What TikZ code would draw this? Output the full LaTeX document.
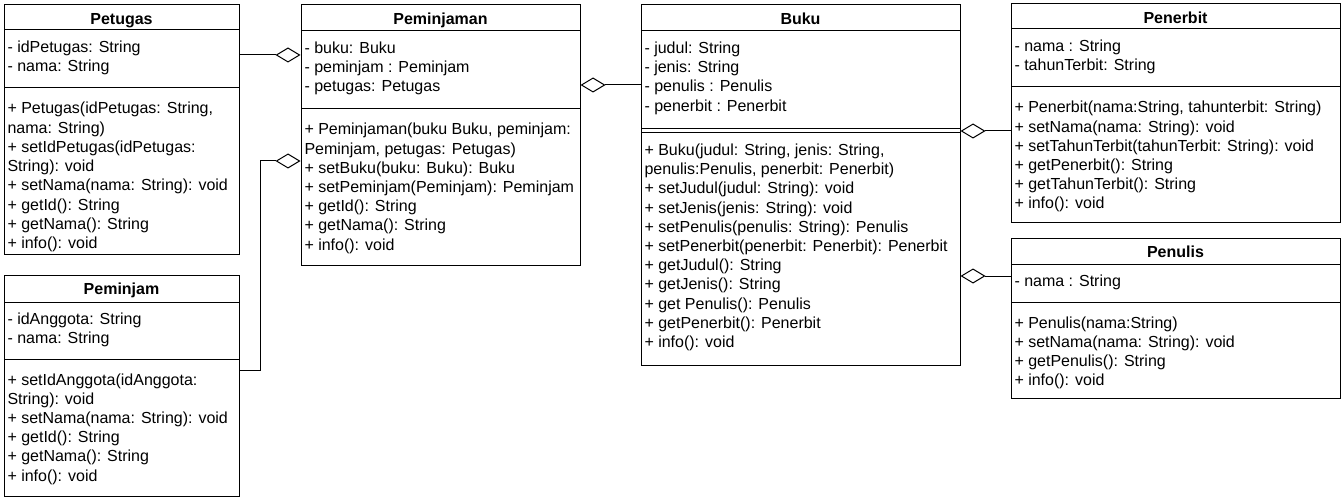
\documentclass[tikz,border=0pt]{standalone}
\usepackage{fontspec}
\setmainfont{Liberation Sans}
\usetikzlibrary{arrows.meta,fit}
\newcommand{\umllines}[4]{\foreach \t [count=\i] in {#4} {\node[txt] (#1\i) at (#2,{#3+1.5+19.2*(\i-1)}) {\t};}}
\begin{document}
\begin{tikzpicture}[x=0.75pt,y=-0.75pt, line width=0.75pt,
 cls/.style={draw, inner sep=0pt, fill=white},
 txt/.style={anchor=base west, inner sep=0pt, font=\fontsize{12}{14.4}\selectfont},
 ttl/.style={anchor=base, inner sep=0pt, font=\fontsize{12}{14.4}\selectfont\bfseries},
 agg/.style={-{Diamond[open,length=18.75pt,width=11.25pt]}, line join=miter}]
\fill[white] (0,0) rectangle (1344,502);
\useasboundingbox (0,0) rectangle (1344,502);

% Petugas
\node[cls, fit={(4,5) (239,254)}] (petugas) {};
\draw (4,30) -- (239,30) (4,88) -- (239,88);
\node[ttl] (petugas-t) at (121.5,24.5) {Petugas};
\umllines{pa}{7}{51}{{- idPetugas: String},{- nama: String}}
\umllines{pm}{7}{112.5}{{+ Petugas(idPetugas: String,},{nama: String)},{+ setIdPetugas(idPetugas:},{String): void},{+ setNama(nama: String): void},{+ getId(): String},{+ getNama(): String},{+ info(): void}}

% Peminjam
\node[cls, fit={(4,275) (239,496)}] (peminjam) {};
\draw (4,302) -- (239,302) (4,359) -- (239,359);
\node[ttl] (peminjam-t) at (121.5,294.5) {Peminjam};
\umllines{qa}{7}{323}{{- idAnggota: String},{- nama: String}}
\umllines{qm}{7}{383.5}{{+ setIdAnggota(idAnggota:},{String): void},{+ setNama(nama: String): void},{+ getId(): String},{+ getNama(): String},{+ info(): void}}

% Peminjaman
\node[cls, fit={(301,5) (580,265)}] (pmj) {};
\draw (301,31) -- (580,31) (301,109) -- (580,109);
\node[ttl] (pmj-t) at (440.5,24.5) {Peminjaman};
\umllines{ra}{304}{52}{{- buku: Buku},{- peminjam : Peminjam},{- petugas: Petugas}}
\umllines{rm}{304}{133.5}{{+ Peminjaman(buku Buku, peminjam:},{Peminjam, petugas: Petugas)},{+ setBuku(buku: Buku): Buku},{+ setPeminjam(Peminjam): Peminjam},{+ getId(): String},{+ getNama(): String},{+ info(): void}}

% Buku
\node[cls, fit={(641,5) (960,365)}] (buku) {};
\draw (641,31) -- (960,31) (641,129) -- (960,129) (641,133) -- (960,133);
\node[ttl] (buku-t) at (800.5,24.5) {Buku};
\umllines{ba}{644}{52}{{- judul: String},{- jenis: String},{- penulis : Penulis},{- penerbit : Penerbit}}
\umllines{bm}{644}{154}{{+ Buku(judul: String, jenis: String,},{penulis:Penulis, penerbit: Penerbit)},{+ setJudul(judul: String): void},{+ setJenis(jenis: String): void},{+ setPenulis(penulis: String): Penulis},{+ setPenerbit(penerbit: Penerbit): Penerbit},{+ getJudul(): String},{+ getJenis(): String},{+ get Penulis(): Penulis},{+ getPenerbit(): Penerbit},{+ info(): void}}

% Penerbit
\node[cls, fit={(1011,4) (1340,223)}] (penerbit) {};
\draw (1011,29) -- (1340,29) (1011,87) -- (1340,87);
\node[ttl] (penerbit-t) at (1175.5,23.5) {Penerbit};
\umllines{ea}{1014}{50}{{- nama : String},{- tahunTerbit: String}}
\umllines{em}{1014}{111.5}{{+ Penerbit(nama:String, tahunterbit: String)},{+ setNama(nama: String): void},{+ setTahunTerbit(tahunTerbit: String): void},{+ getPenerbit(): String},{+ getTahunTerbit(): String},{+ info(): void}}

% Penulis
\node[cls, fit={(1011,238) (1340,398)}] (penulis) {};
\draw (1011,264) -- (1340,264) (1011,302) -- (1340,302);
\node[ttl] (penulis-t) at (1175.5,257.5) {Penulis};
\umllines{la}{1014}{285}{{- nama : String}}
\umllines{lm}{1014}{326.5}{{+ Penulis(nama:String)},{+ setNama(nama: String): void},{+ getPenulis(): String},{+ info(): void}}

% connectors
\coordinate (r1) at (0,55);
\coordinate (r2) at (0,370);
\coordinate (r3) at (0,161);
\coordinate (r4) at (0,85);
\coordinate (r5) at (0,131);
\coordinate (r6) at (0,276);
\draw[agg] (petugas.east |- r1) -- (pmj.west |- r1);
\draw[agg] (peminjam.east |- r2) -- ++(21,0) |- (pmj.west |- r3);
\draw[agg] (buku.west |- r4) -- (pmj.east |- r4);
\draw[agg] (penerbit.west |- r5) -- (buku.east |- r5);
\draw[agg] (penulis.west |- r6) -- (buku.east |- r6);
\end{tikzpicture}
\end{document}
